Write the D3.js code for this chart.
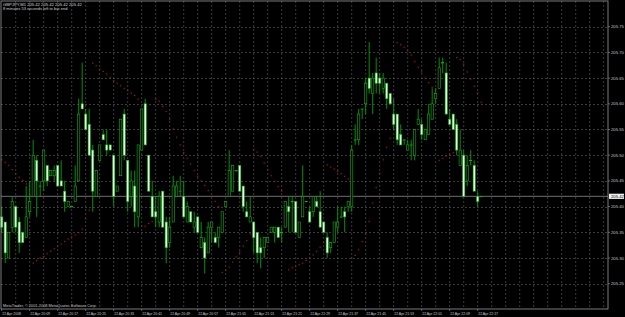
<!DOCTYPE html>
<html>
<head>
<meta charset="utf-8">
<script src="https://cdn.jsdelivr.net/npm/d3@7"></script>
<style>
  html, body { margin: 0; padding: 0; background: #000; }
  svg { display: block; }
</style>
</head>
<body>
<svg id="chart" width="625" height="317"></svg>
<script>
// GBPJPY M1, 22 Apr 2008 20:01 - 22:18 (one bar per minute)
const openValues = [
  205.38, 205.37, 205.30, 205.36, 205.40, 205.37, 205.35, 205.34, 205.39, 205.42,
  205.49, 205.44, 205.45, 205.48, 205.46, 205.46, 205.48, 205.45, 205.43, 205.40,
  205.40, 205.41, 205.45, 205.60, 205.58, 205.56, 205.51, 205.42, 205.49, 205.54,
  205.52, 205.52, 205.50, 205.43, 205.46, 205.58, 205.49, 205.42, 205.44, 205.38,
  205.51, 205.60, 205.50, 205.42, 205.39, 205.37, 205.43, 205.37, 205.33, 205.37,
  205.42, 205.43, 205.42, 205.37, 205.39, 205.36, 205.38, 205.32, 205.33, 205.31,
  205.36, 205.34, 205.34, 205.35, 205.40, 205.42, 205.43, 205.47, 205.48, 205.44,
  205.39, 205.37, 205.37, 205.35, 205.32, 205.32, 205.33, 205.35, 205.35, 205.36,
  205.35, 205.36, 205.40, 205.41, 205.41, 205.34, 205.38, 205.41, 205.39, 205.39,
  205.41, 205.39, 205.37, 205.34, 205.32, 205.33, 205.36, 205.38, 205.39, 205.40,
  205.40, 205.53, 205.53, 205.59, 205.60, 205.65, 205.62, 205.66, 205.65, 205.63,
  205.64, 205.62, 205.58, 205.58, 205.54, 205.53, 205.51, 205.52, 205.50, 205.56,
  205.56, 205.53, 205.54, 205.57, 205.61, 205.63, 205.68, 205.66, 205.57, 205.58,
  205.56, 205.48, 205.50, 205.45, 205.49, 205.48, 205.42, 205.42
];
const highValues = [
  205.40, 205.37, 205.35, 205.42, 205.40, 205.38, 205.35, 205.44, 205.45, 205.53,
  205.50, 205.45, 205.51, 205.48, 205.47, 205.48, 205.48, 205.49, 205.45, 205.41,
  205.40, 205.48, 205.61, 205.68, 205.59, 205.59, 205.52, 205.47, 205.52, 205.55,
  205.55, 205.52, 205.50, 205.44, 205.57, 205.59, 205.49, 205.47, 205.47, 205.52,
  205.59, 205.61, 205.50, 205.45, 205.42, 205.43, 205.43, 205.38, 205.38, 205.46,
  205.45, 205.46, 205.45, 205.41, 205.39, 205.39, 205.38, 205.37, 205.34, 205.37,
  205.37, 205.35, 205.36, 205.39, 205.41, 205.51, 205.48, 205.47, 205.48, 205.44,
  205.41, 205.42, 205.37, 205.35, 205.34, 205.34, 205.34, 205.36, 205.36, 205.36,
  205.36, 205.41, 205.42, 205.42, 205.41, 205.37, 205.48, 205.41, 205.40, 205.42,
  205.42, 205.43, 205.37, 205.35, 205.33, 205.37, 205.40, 205.40, 205.40, 205.41,
  205.52, 205.56, 205.59, 205.59, 205.65, 205.72, 205.66, 205.69, 205.66, 205.66,
  205.64, 205.62, 205.61, 205.58, 205.56, 205.53, 205.53, 205.53, 205.55, 205.59,
  205.57, 205.55, 205.60, 205.63, 205.63, 205.69, 205.69, 205.68, 205.59, 205.58,
  205.57, 205.55, 205.51, 205.50, 205.51, 205.49, 205.43, 205.42
];
const lowValues = [
  205.35, 205.29, 205.30, 205.35, 205.35, 205.31, 205.33, 205.34, 205.38, 205.42,
  205.38, 205.42, 205.43, 205.44, 205.46, 205.45, 205.44, 205.44, 205.39, 205.40,
  205.40, 205.41, 205.45, 205.59, 205.55, 205.50, 205.39, 205.42, 205.49, 205.53,
  205.50, 205.51, 205.40, 205.43, 205.46, 205.49, 205.39, 205.40, 205.36, 205.36,
  205.51, 205.52, 205.43, 205.38, 205.36, 205.36, 205.36, 205.29, 205.32, 205.37,
  205.42, 205.42, 205.38, 205.37, 205.37, 205.35, 205.35, 205.32, 205.27, 205.31,
  205.33, 205.33, 205.32, 205.35, 205.40, 205.42, 205.43, 205.47, 205.43, 205.39,
  205.38, 205.37, 205.31, 205.29, 205.28, 205.30, 205.33, 205.35, 205.33, 205.34,
  205.33, 205.36, 205.35, 205.35, 205.35, 205.34, 205.38, 205.41, 205.37, 205.38,
  205.40, 205.36, 205.35, 205.30, 205.31, 205.33, 205.35, 205.38, 205.35, 205.39,
  205.39, 205.52, 205.52, 205.57, 205.58, 205.62, 205.58, 205.62, 205.62, 205.62,
  205.59, 205.60, 205.55, 205.52, 205.52, 205.52, 205.51, 205.49, 205.49, 205.56,
  205.53, 205.53, 205.54, 205.57, 205.60, 205.63, 205.66, 205.58, 205.56, 205.55,
  205.50, 205.48, 205.42, 205.44, 205.48, 205.43, 205.40, 205.42
];
const closeValues = [
  205.36, 205.31, 205.35, 205.41, 205.36, 205.33, 205.33, 205.38, 205.41, 205.50,
  205.45, 205.44, 205.51, 205.45, 205.47, 205.47, 205.44, 205.44, 205.41, 205.41,
  205.40, 205.44, 205.58, 205.59, 205.55, 205.50, 205.43, 205.47, 205.52, 205.53,
  205.51, 205.51, 205.42, 205.44, 205.57, 205.50, 205.41, 205.45, 205.39, 205.52,
  205.59, 205.52, 205.43, 205.38, 205.38, 205.42, 205.36, 205.32, 205.36, 205.44,
  205.44, 205.43, 205.38, 205.40, 205.37, 205.37, 205.35, 205.34, 205.30, 205.36,
  205.37, 205.33, 205.36, 205.39, 205.41, 205.47, 205.48, 205.47, 205.43, 205.40,
  205.38, 205.38, 205.34, 205.31, 205.31, 205.34, 205.34, 205.36, 205.36, 205.34,
  205.35, 205.41, 205.39, 205.41, 205.35, 205.37, 205.42, 205.41, 205.37, 205.42,
  205.40, 205.36, 205.35, 205.31, 205.33, 205.37, 205.37, 205.38, 205.38, 205.41,
  205.51, 205.53, 205.58, 205.59, 205.64, 205.63, 205.65, 205.64, 205.64, 205.65,
  205.61, 205.60, 205.56, 205.53, 205.52, 205.53, 205.52, 205.52, 205.55, 205.57,
  205.54, 205.55, 205.58, 205.60, 205.62, 205.67, 205.68, 205.58, 205.56, 205.55,
  205.51, 205.51, 205.42, 205.48, 205.49, 205.43, 205.41, 205.42
];
// Parabolic SAR dots (null = no dot)
const sarValues = [
  205.491, 205.486, 205.480, 205.472, 205.464, 205.457, 205.451, 205.444, null, 205.290,
  205.295, 205.300, 205.303, 205.308, 205.313, 205.318, 205.323, 205.327, 205.332, 205.337,
  205.341, 205.345, 205.349, 205.356, 205.376, 205.393, 205.679, 205.674, 205.667, 205.663,
  205.658, 205.651, 205.645, 205.640, 205.635, 205.630, 205.626, 205.621, 205.616, 205.609,
  205.362, 205.362, 205.367, 205.371, 205.609, 205.605, 205.595, 205.585, 205.569, 205.551,
  205.535, 205.520, 205.505, 205.494, 205.483, 205.470, 205.459, 205.450, 205.441, 205.431,
  205.420, 205.410, 205.400, 205.272, 205.276, 205.282, 205.292, 205.302, 205.311, 205.323,
  205.334, 205.347, 205.511, 205.506, 205.498, 205.485, 205.472, 205.460, 205.449, 205.439,
  205.430, 205.420, 205.277, 205.281, 205.284, 205.287, 205.290, 205.295, 205.300, 205.306,
  205.313, 205.321, 205.330, 205.481, 205.477, 205.473, 205.468, 205.464, 205.459, 205.454,
  205.300, 205.305, 205.316, 205.332, 205.347, 205.371, 205.407, 205.437, 205.465, 205.491,
  205.515, 205.533, 205.553, 205.719, 205.715, 205.710, 205.703, 205.695, 205.682, 205.671,
  205.662, 205.650, 205.641, 205.632, 205.629, 205.490, 205.494, 205.498, 205.502, 205.505,
  205.690, 205.686, 205.677, 205.662, 205.648, 205.634, 205.621, 205.603
];
const priceTicks = [205.75, 205.70, 205.65, 205.60, 205.55, 205.50, 205.45, 205.40, 205.35, 205.30, 205.25];
const timeLabels = [
  "22 Apr 2008", "22 Apr 20:09", "22 Apr 20:17", "22 Apr 20:25", "22 Apr 20:33", "22 Apr 20:41",
  "22 Apr 20:49", "22 Apr 20:57", "22 Apr 21:05", "22 Apr 21:13", "22 Apr 21:21", "22 Apr 21:29",
  "22 Apr 21:37", "22 Apr 21:45", "22 Apr 21:53", "22 Apr 22:01", "22 Apr 22:09", "22 Apr 22:17"
];
const currentPrice = 205.42;
const headerLine = "GBPJPY,M1  205.42 205.42 205.42 205.42";
const timerLine = "8 minutes 53 seconds left to bar end";
const copyright = "MetaTrader, \u00a9 2001-2008 MetaQuotes Software Corp.";

const barsPerLabel = 8;
const barsPerGrid = 4;
const barsVisible = 174;

const bars = openValues.map((o, i) => ({
  i, open: o, high: highValues[i], low: lowValues[i], close: closeValues[i], sar: sarValues[i]
}));

const plot = { left: 1, right: 608, top: 1, bottom: 309 };
const svg = d3.select("#chart");
const font = "'Liberation Sans', Arial, sans-serif";

const x = d3.scaleLinear().domain([0, barsVisible - 1]).range([1.7, 1.7 + 3.5 * (barsVisible - 1)]);
const y = d3.scaleLinear().domain([205.25, 205.75]).range([283.7, 26.7]);

svg.append("rect").attr("width", 625).attr("height", 317).attr("fill", "#000");

// grid
const gridG = svg.append("g").attr("stroke", "#4a4a4a").attr("stroke-width", 0.8)
  .attr("stroke-dasharray", "2,2");
gridG.selectAll("line.h").data(priceTicks).join("line")
  .attr("x1", plot.left).attr("x2", plot.right)
  .attr("y1", (d) => Math.round(y(d)) + 0.5).attr("y2", (d) => Math.round(y(d)) + 0.5);
const gridBars = d3.range(barsPerGrid, barsVisible, barsPerGrid);
gridG.selectAll("line.v").data(gridBars).join("line")
  .attr("x1", (d) => x(d)).attr("x2", (d) => x(d))
  .attr("y1", plot.top).attr("y2", plot.bottom);

// current price line
svg.append("line")
  .attr("x1", plot.left).attr("x2", plot.right)
  .attr("y1", y(currentPrice)).attr("y2", y(currentPrice))
  .attr("stroke", "#7c7c7c").attr("stroke-width", 0.9);

// SAR
svg.append("g").selectAll("rect").data(bars.filter((d) => d.sar != null)).join("rect")
  .attr("x", (d) => x(d.i) - 0.6).attr("y", (d) => y(d.sar) - 0.6)
  .attr("width", 1.2).attr("height", 1.2)
  .attr("fill", "#b81414");

// candles
const candle = svg.append("g").selectAll("g").data(bars).join("g");
candle.append("line")
  .attr("x1", (d) => x(d.i)).attr("x2", (d) => x(d.i))
  .attr("y1", (d) => y(d.high)).attr("y2", (d) => y(d.low))
  .attr("stroke", "#00a300").attr("stroke-width", 0.9);
candle.append("rect")
  .attr("x", (d) => x(d.i) - 1.1)
  .attr("y", (d) => y(Math.max(d.open, d.close)))
  .attr("width", 2.2)
  .attr("height", (d) => Math.max(0.4, Math.abs(y(d.open) - y(d.close))))
  .attr("fill", (d) => d.close < d.open ? "#e6ffe6" : "#000")
  .attr("stroke", "#11b011").attr("stroke-width", 0.6);

// frame
svg.append("rect")
  .attr("x", plot.left).attr("y", plot.top)
  .attr("width", plot.right - plot.left).attr("height", plot.bottom - plot.top)
  .attr("fill", "none").attr("stroke", "#9a9a9a").attr("stroke-width", 0.8);

// price axis
const yAxis = svg.append("g").attr("font-family", font).attr("font-size", 4.2).attr("fill", "#c8c8c8");
yAxis.selectAll("line").data(priceTicks).join("line")
  .attr("x1", plot.right).attr("x2", plot.right + 2)
  .attr("y1", (d) => y(d)).attr("y2", (d) => y(d))
  .attr("stroke", "#9a9a9a").attr("stroke-width", 0.6);
yAxis.selectAll("text").data(priceTicks).join("text")
  .attr("x", 611).attr("y", (d) => y(d) + 1.5)
  .text((d) => d.toFixed(2));

svg.append("rect")
  .attr("x", 609).attr("y", y(currentPrice) - 2.6).attr("width", 15).attr("height", 5.2)
  .attr("fill", "#f0f0f0");
svg.append("text")
  .attr("x", 611).attr("y", y(currentPrice) + 1.5)
  .attr("font-family", font).attr("font-size", 4.2).attr("fill", "#000")
  .text(currentPrice.toFixed(2));

// time axis
const labelBars = timeLabels.map((t, k) => ({ t, i: k * barsPerLabel }));
const xAxis = svg.append("g").attr("font-family", font).attr("font-size", 3.5).attr("fill", "#c8c8c8");
xAxis.selectAll("line").data(labelBars).join("line")
  .attr("x1", (d) => x(d.i)).attr("x2", (d) => x(d.i))
  .attr("y1", plot.bottom).attr("y2", plot.bottom + 2)
  .attr("stroke", "#9a9a9a").attr("stroke-width", 0.6);
xAxis.selectAll("text").data(labelBars).join("text")
  .attr("x", (d) => x(d.i) + 0.5).attr("y", 315)
  .text((d) => d.t);

// texts
svg.append("text").attr("x", 3).attr("y", 5.8)
  .attr("font-family", font).attr("font-size", 4.2).attr("fill", "#d0d0d0")
  .text(headerLine);
svg.append("text").attr("x", 3).attr("y", 10.4)
  .attr("font-family", font).attr("font-size", 4).attr("fill", "#d0d0d0")
  .text(timerLine);
svg.append("text").attr("x", 3).attr("y", 306.6)
  .attr("font-family", font).attr("font-size", 3.9).attr("fill", "#c8c8c8")
  .text(copyright);
</script>
</body>
</html>
